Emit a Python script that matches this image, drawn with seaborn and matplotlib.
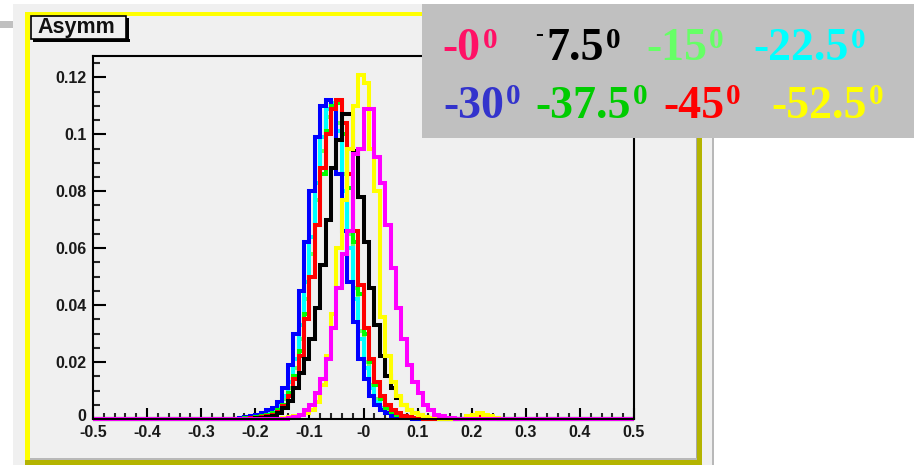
import numpy as np
import pandas as pd
import matplotlib
matplotlib.use("Agg")
import matplotlib.pyplot as plt
import matplotlib.transforms as mtransforms
from matplotlib.patches import Rectangle
from matplotlib.ticker import MultipleLocator
import seaborn as sns

# ---------------- data (bin contents, bins of width 0.01 starting at -0.23) -------------
first_edge = -0.23
bin_width = 0.01

h_blue = [0.0005, 0.0007, 0.001, 0.0015, 0.002, 0.003, 0.004, 0.006, 0.011, 0.019,
          0.030, 0.045, 0.062, 0.080, 0.099, 0.110, 0.112, 0.109, 0.086, 0.066,
          0.048, 0.034, 0.021, 0.014, 0.008, 0.005, 0.003, 0.002, 0.001, 0.0007,
          0.0005, 0.0003, 0, 0, 0, 0, 0, 0, 0, 0,
          0, 0, 0, 0, 0, 0, 0, 0, 0, 0]
h_cyan = [0, 0.0004, 0.0007, 0.001, 0.0015, 0.002, 0.003, 0.005, 0.008, 0.013,
          0.021, 0.033, 0.048, 0.064, 0.083, 0.099, 0.109, 0.111, 0.101, 0.080,
          0.060, 0.042, 0.028, 0.018, 0.011, 0.006, 0.004, 0.002, 0.0015, 0.001,
          0.0005, 0.0003, 0, 0, 0, 0, 0, 0, 0, 0,
          0, 0, 0, 0.0005, 0.0008, 0.0005, 0, 0, 0, 0]
h_lightgreen = [0, 0.0003, 0.0005, 0.0008, 0.001, 0.0015, 0.0025, 0.004, 0.007, 0.011,
                0.018, 0.028, 0.042, 0.058, 0.077, 0.094, 0.106, 0.110, 0.104, 0.086,
                0.065, 0.046, 0.031, 0.020, 0.012, 0.007, 0.004, 0.0025, 0.0015, 0.001,
                0.0006, 0.0003, 0, 0, 0, 0, 0, 0, 0, 0,
                0, 0, 0, 0, 0, 0, 0, 0, 0, 0]
h_green = [0, 0.0003, 0.0005, 0.0007, 0.001, 0.0015, 0.002, 0.003, 0.005, 0.009,
           0.015, 0.024, 0.037, 0.050, 0.068, 0.086, 0.101, 0.110, 0.111, 0.100,
           0.081, 0.062, 0.044, 0.030, 0.020, 0.012, 0.007, 0.004, 0.0025, 0.0015,
           0.001, 0.0006, 0.0004, 0.0002, 0, 0, 0, 0, 0, 0,
           0, 0, 0, 0.0005, 0.0007, 0.0005, 0, 0, 0, 0]
h_red = [0, 0, 0.0003, 0.0005, 0.0008, 0.001, 0.0015, 0.0025, 0.0045, 0.008,
         0.014, 0.022, 0.035, 0.050, 0.068, 0.088, 0.100, 0.109, 0.112, 0.104,
         0.086, 0.066, 0.047, 0.032, 0.021, 0.013, 0.008, 0.005, 0.003, 0.002,
         0.0012, 0.0007, 0.0004, 0.0003, 0, 0, 0, 0, 0, 0,
         0, 0, 0, 0, 0.0008, 0.001, 0.0008, 0.0005, 0, 0]
h_black = [0, 0, 0, 0.0003, 0.0005, 0.0008, 0.0012, 0.002, 0.004, 0.0063,
           0.011, 0.016, 0.021, 0.028, 0.039, 0.054, 0.070, 0.088, 0.098, 0.107,
           0.107, 0.094, 0.078, 0.062, 0.046, 0.033, 0.022, 0.015, 0.011, 0.0075,
           0.005, 0.003, 0.002, 0.0013, 0.0008, 0.0005, 0.0003, 0, 0, 0,
           0, 0, 0, 0, 0, 0, 0, 0, 0, 0]
h_yellow = [0, 0, 0, 0, 0, 0, 0, 0, 0.0003, 0.0006,
            0.001, 0.0015, 0.002, 0.003, 0.006, 0.012, 0.022, 0.037, 0.060, 0.077,
            0.095, 0.110, 0.121, 0.118, 0.095, 0.080, 0.036, 0.022, 0.013, 0.008,
            0.005, 0.003, 0.002, 0.0013, 0.0008, 0.0005, 0.0004, 0, 0, 0,
            0, 0, 0.001, 0.0015, 0.002, 0.0015, 0.001, 0.0005, 0, 0]
h_magenta = [0, 0, 0, 0, 0, 0, 0, 0, 0, 0.0003,
             0.0007, 0.0015, 0.003, 0.005, 0.009, 0.014, 0.021, 0.032, 0.046, 0.058,
             0.066, 0.093, 0.095, 0.109, 0.109, 0.092, 0.083, 0.068, 0.053, 0.039,
             0.028, 0.019, 0.013, 0.009, 0.005, 0.003, 0.0015, 0.001, 0.0005, 0.0003,
             0, 0, 0, 0, 0, 0, 0, 0, 0, 0]

# drawing order (bottom -> top) and colours
hist_series = [h_lightgreen, h_cyan, h_blue, h_green, h_red, h_black, h_yellow, h_magenta]
hist_colors = ['#66ff66', '#00ffff', '#0000ff', '#00ff00', '#ff0000', '#000000', '#ffff00', '#ff00ff']

legend_labels = ["-0", "-7.5", "-15", "-22.5", "-30", "-37.5", "-45", "-52.5"]
legend_colors = ['#ff1166', '#000000', '#66ff66', '#00ffff', '#3333cc', '#00cc00', '#ff0000', '#ffff00']

xtick_vals = [-0.5, -0.4, -0.3, -0.2, -0.1, 0.0, 0.1, 0.2, 0.3, 0.4, 0.5]
xtick_labels = ["-0.5", "-0.4", "-0.3", "-0.2", "-0.1", "-0", "0.1", "0.2", "0.3", "0.4", "0.5"]
ytick_vals = [0.0, 0.02, 0.04, 0.06, 0.08, 0.10, 0.12]
ytick_labels = ["0", "0.02", "0.04", "0.06", "0.08", "0.1", "0.12"]
title_text = "Asymm"

# ---------------- figure ----------------
W, H = 916, 465
sns.set_style("white")
plt.rcParams['font.family'] = ['Liberation Sans', 'DejaVu Sans']

fig = plt.figure(figsize=(W / 100, H / 100), dpi=100, facecolor='white')


def fx(x):
    return x / W


def fy(y):
    return 1 - y / H


def rect(x0, y0, x1, y1, color, z, ec='none', lw=0):
    r = Rectangle((fx(x0), fy(y1)), (x1 - x0) / W, (y1 - y0) / H,
                  transform=fig.transFigure, facecolor=color, edgecolor=ec,
                  linewidth=lw, zorder=z)
    fig.add_artist(r)
    return r


# canvas / pad decoration
rect(13, 4, 713, 465, '#f0f0f0', -10)
rect(712, 4, 714, 465, '#b8b8b8', -9)
rect(0, 21, 13, 28, '#c0c0c0', -9)
rect(25, 12.5, 700, 16, '#ffff00', -8)
rect(25, 12.5, 29.5, 462, '#ffff00', -8)
rect(697, 12.5, 702, 464.5, '#b4b400', -8)
rect(25, 460, 702, 464.5, '#b4b400', -8)
rect(695.5, 16, 697, 460, '#a8a8a8', -8)
rect(29.5, 458, 697, 460, '#b8b8b8', -8)

# title box
rect(30.5, 16, 126, 39, '#f0f0f0', 4, ec='black', lw=1.2)
rect(126, 18, 129.5, 42, '#000000', 4)
rect(33, 39, 129.5, 42, '#000000', 4)
fig.text(fx(37), fy(33), title_text, fontsize=15.5, fontweight='bold',
         family=['Liberation Sans', 'DejaVu Sans'], color='#111111',
         ha='left', va='baseline', zorder=5)

# axes
ax = fig.add_axes([fx(93), fy(419), (634 - 93) / W, (419 - 56) / H])
ax.set_facecolor('#f0f0f0')

n_bins = int(round(1.0 / bin_width))
edges = np.linspace(-0.5, 0.5, n_bins + 1)
centers = (edges[:-1] + edges[1:]) / 2
start_idx = int(round((first_edge + 0.5) / bin_width))

for vals, col in zip(hist_series, hist_colors):
    full = np.zeros(len(centers))
    full[start_idx:start_idx + len(vals)] = vals
    df = pd.DataFrame({"x": centers, "w": full})
    sns.histplot(data=df, x="x", weights="w", bins=n_bins, binrange=(-0.5, 0.5),
                 element="step", fill=False, color=col, linewidth=2.9, ax=ax,
                 solid_joinstyle='miter', solid_capstyle='butt')

for ln in ax.lines:
    ln.set_clip_on(False)

ax.set_xlim(-0.5, 0.5)
ax.set_ylim(0, (419 - 56) / 2847)
ax.set_xlabel("")
ax.set_ylabel("")

for s in ax.spines.values():
    s.set_color('black')
    s.set_linewidth(1.5)
    s.set_visible(True)

ax.set_xticks(xtick_vals, xtick_labels)
ax.set_yticks(ytick_vals, ytick_labels)
ax.xaxis.set_minor_locator(MultipleLocator(0.02))
ax.yaxis.set_minor_locator(MultipleLocator(0.005))
ax.tick_params(axis='y', which='major', direction='in', length=9.4, width=1.5,
               left=True, right=False, labelsize=11.5, pad=4.5, colors='black',
               labelcolor='#1a1a1a')
ax.tick_params(axis='y', which='minor', direction='in', length=5, width=1.5,
               left=True, right=False)
ax.tick_params(axis='x', which='major', direction='in', length=8, width=1.5,
               bottom=True, top=False, labelsize=11.5, pad=4, colors='black',
               labelcolor='#1a1a1a')
ax.tick_params(axis='x', which='minor', direction='in', length=4.3, width=1.5,
               bottom=True, top=False)
for lbl in ax.get_xticklabels() + ax.get_yticklabels():
    lbl.set_fontweight('bold')

# the "0" y label sits just above the "-0.5" x label
zero_lbl = ax.yaxis.get_major_ticks()[0].label1
zero_lbl.set_transform(zero_lbl.get_transform() +
                       mtransforms.ScaledTranslation(-1 / 100, 4 / 100, fig.dpi_scale_trans))

# legend box
rect(422, 4, 914, 138, '#c0c0c0', 5)

serif = ['Liberation Serif', 'DejaVu Serif']
main_fs = 33
sup_fs = 21
legend_x = [442.7, 546, 646, 753, 443, 535, 663, 771]
legend_base = [60.5, 60.5, 60.5, 60.5, 117.5, 117.5, 117.5, 117.5]
sup_base = [48, 48, 48, 48, 104.5, 104.5, 104.5, 104.5]

fig.canvas.draw()
renderer = fig.canvas.get_renderer()
for i, (lab, col) in enumerate(zip(legend_labels, legend_colors)):
    x0 = legend_x[i]
    main = lab
    if i == 1:
        # raised minus for the "-7.5" entry
        fig.text(fx(535.5), fy(40.5), "-", fontsize=17, fontweight='bold',
                 family=serif, color=col, ha='left', va='baseline', zorder=6)
        main = lab[1:]
    t = fig.text(fx(x0), fy(legend_base[i]), main, fontsize=main_fs,
                 fontweight='bold', family=serif, color=col,
                 ha='left', va='baseline', zorder=6)
    bb = t.get_window_extent(renderer)
    fig.text((bb.x1 + 2) / W, fy(sup_base[i]), "0", fontsize=sup_fs,
             fontweight='bold', family=serif, color=col,
             ha='left', va='baseline', zorder=6)

fig.savefig("out.png", dpi=100, facecolor='white')
